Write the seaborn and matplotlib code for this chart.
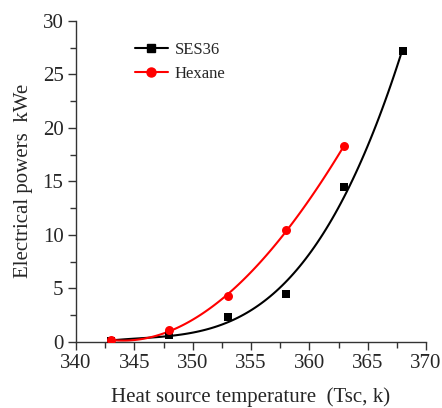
import numpy as np
import pandas as pd
import matplotlib
matplotlib.use("Agg")
import matplotlib.pyplot as plt
from matplotlib.lines import Line2D
from matplotlib.ticker import MultipleLocator
import seaborn as sns

# --- DATA ---
temp_ses36 = [343, 348, 353, 358, 363, 368]
power_ses36 = [0.05, 0.65, 2.3, 4.5, 14.5, 27.15]
temp_hexane = [343, 348, 353, 358, 363]
power_hexane = [0.15, 1.12, 4.27, 10.45, 18.35]

sns.set_style("ticks")
plt.rcParams['font.family'] = ['Liberation Serif', 'DejaVu Serif']

fig = plt.figure(figsize=(4.42, 4.08), dpi=100)
ax = fig.add_axes([0.172, 0.162, 0.792, 0.787])

df_s = pd.DataFrame({'T': temp_ses36, 'P': power_ses36})
df_h = pd.DataFrame({'T': temp_hexane, 'P': power_hexane})

# smooth fitted curves through the points, like the original
sns.regplot(data=df_s, x='T', y='P', order=3, ci=None, ax=ax, color='black',
            marker='s', scatter_kws={'s': 30, 'zorder': 3, 'alpha': 1, 'linewidths': 0},
            line_kws={'lw': 1.5})
sns.regplot(data=df_h, x='T', y='P', order=3, ci=None, ax=ax, color='red',
            marker='o', scatter_kws={'s': 42, 'zorder': 3, 'alpha': 1, 'linewidths': 0},
            line_kws={'lw': 1.5})

ax.set_xlim(340, 370)
ax.set_ylim(0, 30)
ax.xaxis.set_major_locator(MultipleLocator(5))
ax.xaxis.set_minor_locator(MultipleLocator(2.5))
ax.yaxis.set_major_locator(MultipleLocator(5))
ax.yaxis.set_minor_locator(MultipleLocator(2.5))
ax.tick_params(which='major', length=6, width=1, color='#333333', labelsize=15, pad=3)
ax.tick_params(which='minor', length=4, width=1, color='#333333')
sns.despine(ax=ax)
for s in ['left', 'bottom']:
    ax.spines[s].set_color('#333333')
    ax.spines[s].set_linewidth(1)

ax.set_xlabel("Heat source temperature  (Tsc, k)", fontsize=15, labelpad=10)
ax.set_ylabel("Electrical powers  kWe", fontsize=15, labelpad=7)

handles = [
    Line2D([], [], color='black', marker='s', markersize=6, lw=1.5),
    Line2D([], [], color='red', marker='o', markersize=6.5, lw=1.5),
]
ax.legend(handles, ['SES36', 'Hexane'], loc='upper left',
          bbox_to_anchor=(0.125, 0.98), frameon=False, fontsize=12,
          handlelength=2.0, handletextpad=0.4, labelspacing=0.45)

fig.savefig("out.png", dpi=100)
